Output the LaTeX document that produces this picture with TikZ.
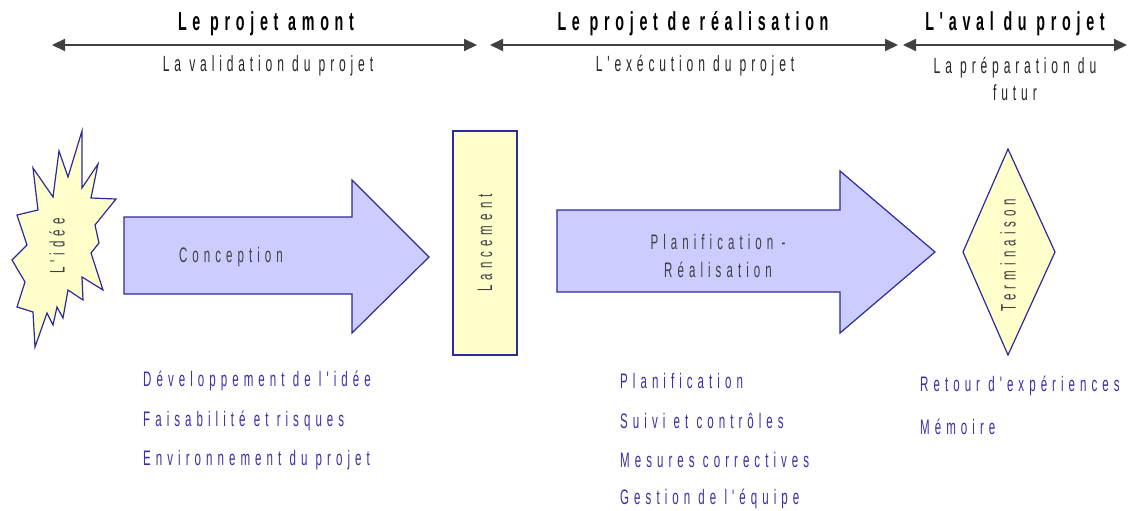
\documentclass[tikz,border=0pt]{standalone}
\usepackage{fontspec}
\usetikzlibrary{arrows.meta,shapes.geometric}
\newfontfamily\nfa[FakeStretch=0.55,LetterSpace=22]{Liberation Sans}
\newfontfamily\nfb[FakeStretch=0.55,LetterSpace=24]{Liberation Sans}
\definecolor{navy}{HTML}{2B2B9A}
\definecolor{lilac}{HTML}{CCCCFF}
\definecolor{pale}{HTML}{FFFFCC}
\definecolor{listc}{HTML}{3A2FA8}
\begin{document}
\begin{tikzpicture}[x=1pt,y=-1pt,
  hdr/.style={font=\nfa\bfseries\fontsize{26}{28}\selectfont,text=black,inner sep=0},
  sub/.style={font=\nfa\fontsize{22}{27}\selectfont,text=black!85,inner sep=0,align=center},
  span/.style={line width=2pt,draw=black!75,{Triangle[length=13pt,width=12pt]}-{Triangle[length=13pt,width=12pt]}},
  outl/.style={draw=navy,line width=1.2pt},
  lbl/.style={font=\nfb\fontsize{21}{25}\selectfont,text=black!75,inner sep=0,align=center},
  item/.style={font=\nfb\fontsize{21}{25}\selectfont,text=listc,anchor=west,inner sep=0}]
\useasboundingbox (0,0) rectangle (1130,511);
% headers
\node[hdr] (h1) at (266,24) {Le projet amont};
\node[hdr] (h2) at (693,24) {Le projet de réalisation};
\node[hdr] (h3) at (1015,24) {L'aval du projet};
\coordinate (a1l) at (52,45); \coordinate (a1r) at (477,45);
\coordinate (a2l) at (490,45); \coordinate (a2r) at (898,45);
\coordinate (a3l) at (903,45); \coordinate (a3r) at (1127,45);
\draw[span] (a1l) -- (a1r);
\draw[span] (a2l) -- (a2r);
\draw[span] (a3l) -- (a3r);
\node[sub] (s1) at (268,66) {La validation du projet};
\node[sub] (s2) at (695,66) {L'exécution du projet};
\node[sub,anchor=north] (s3) at (1015,57) {La préparation du\\futur};
% burst
\draw[outl,fill=pale] (82,131) -- (82,188) -- (98,164) -- (91,198) -- (116,199) -- (95,225) -- (99,243) -- (91,253) -- (103,290) -- (82,277) -- (83,300) -- (68,290) -- (63,318) -- (57,307) -- (53,325) -- (47,313) -- (35,347) -- (33,312) -- (17,307) -- (25,282) -- (12,260) -- (27,245) -- (17,215) -- (38,210) -- (33,168) -- (53,197) -- (59,151) -- (68,177) -- cycle;
\node[lbl,rotate=90] (idee) at (57,246) {L'idée};
% conception arrow
\draw[outl,fill=lilac] (124,217) -- (352,217) -- (352,180) -- (429,257) -- (352,333) -- (352,294) -- (124,294) -- cycle;
\node[lbl] (conc) at (231,257) {Conception};
% lancement
\node[outl,fill=pale,minimum width=64pt,minimum height=224pt,inner sep=0] (lanc) at (485,243) {};
\node[lbl,rotate=90] (lanct) at (lanc.center) {Lancement};
% planification arrow
\draw[outl,fill=lilac] (557,210) -- (840,210) -- (840,171) -- (935,252) -- (840,333) -- (840,292) -- (557,292) -- cycle;
\node[lbl] (plan) at (718,256) {Planification -\\[3pt]Réalisation};
% terminaison
\draw[outl,fill=pale] (1008,149) -- (1055,252) -- (1008,355) -- (963,252) -- cycle;
\node[lbl,rotate=90] (term) at (1008,255) {Terminaison};
% lists
\node[item] (l1) at (143,381) {Développement de l'idée};
\node[item] (l2) at (143,421) {Faisabilité et risques};
\node[item] (l3) at (143,460) {Environnement du projet};
\node[item] (m1) at (620,381) {Planification};
\node[item] (m2) at (620,421) {Suivi et contrôles};
\node[item] (m3) at (620,460) {Mesures correctives};
\node[item] (m4) at (620,499) {Gestion de l'équipe};
\node[item] (r1) at (920,386) {Retour d'expériences};
\node[item] (r2) at (920,427) {Mémoire};
\end{tikzpicture}
\end{document}
